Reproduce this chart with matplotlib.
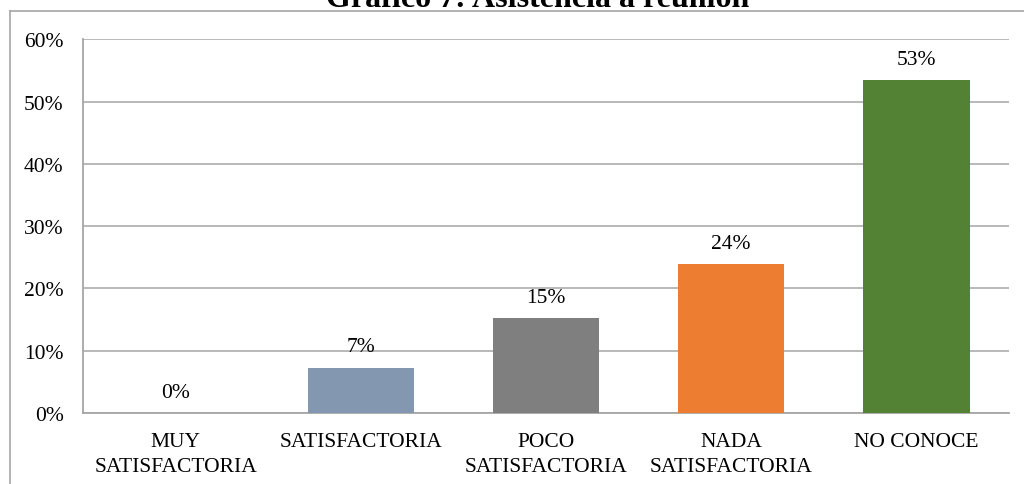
import matplotlib
matplotlib.use("Agg")
import matplotlib.pyplot as plt
from matplotlib.lines import Line2D

categories = ["MUY\nSATISFACTORIA", "SATISFACTORIA", "POCO\nSATISFACTORIA",
              "NADA\nSATISFACTORIA", "NO CONOCE"]
values = [0.0, 7.3, 15.3, 23.9, 53.4]
value_labels = ["0%", "7%", "15%", "24%", "53%"]
colors = ["#4472C4", "#8497B0", "#7F7F7F", "#ED7D31", "#548235"]
yticks = [0, 10, 20, 30, 40, 50, 60]
ytick_labels = ["0%", "10%", "20%", "30%", "40%", "50%", "60%"]
title = "Gráfico 7: Asistencia a reunión"

plt.rcParams['font.family'] = ['Liberation Serif', 'DejaVu Serif']
FS = 15.5

W, H = 1024, 485
fig = plt.figure(figsize=(W / 100, H / 100), dpi=100)
ax = fig.add_axes([83 / W, 1 - 414 / H, 926 / W, (414 - 40.3) / H])

x = list(range(len(categories)))
ax.bar(x, values, width=0.575, color=colors, zorder=3)
for xi, v, lab in zip(x, values, value_labels):
    ax.annotate(lab, (xi, v), xytext=(0, 8), textcoords="offset points",
                ha="center", va="bottom", fontsize=FS, color="#000000")

ax.set_xlim(-0.5, len(categories) - 0.5)
ax.set_ylim(0, 60)
ax.set_yticks(yticks)
ax.set_yticklabels(ytick_labels, fontsize=FS)
ax.set_xticks(x)
ax.set_xticklabels(categories, fontsize=FS, linespacing=1.4)
ax.tick_params(axis="both", length=0)
ax.tick_params(axis="y", pad=14)
ax.tick_params(axis="x", pad=14)
ax.grid(axis="y", color="#B3B3B3", linewidth=1.3, zorder=0)
for s in ["top", "right"]:
    ax.spines[s].set_visible(False)
ax.spines["left"].set_color("#A6A6A6")
ax.spines["bottom"].set_color("#A6A6A6")
ax.spines["left"].set_linewidth(1.3)
ax.spines["bottom"].set_linewidth(1.3)

# chart frame
fig.add_artist(Line2D([9.5 / W, 9.5 / W], [0, 1 - 11.7 / H], transform=fig.transFigure,
                      color="#A6A6A6", linewidth=1.2))
fig.add_artist(Line2D([9.5 / W, 1], [1 - 11.7 / H, 1 - 11.7 / H], transform=fig.transFigure,
                      color="#A6A6A6", linewidth=1.2))

fig.text(538 / W, 1 - 7 / H, title, ha="center", va="baseline",
         fontsize=23, fontweight="bold")

fig.savefig("out.png", dpi=100)
